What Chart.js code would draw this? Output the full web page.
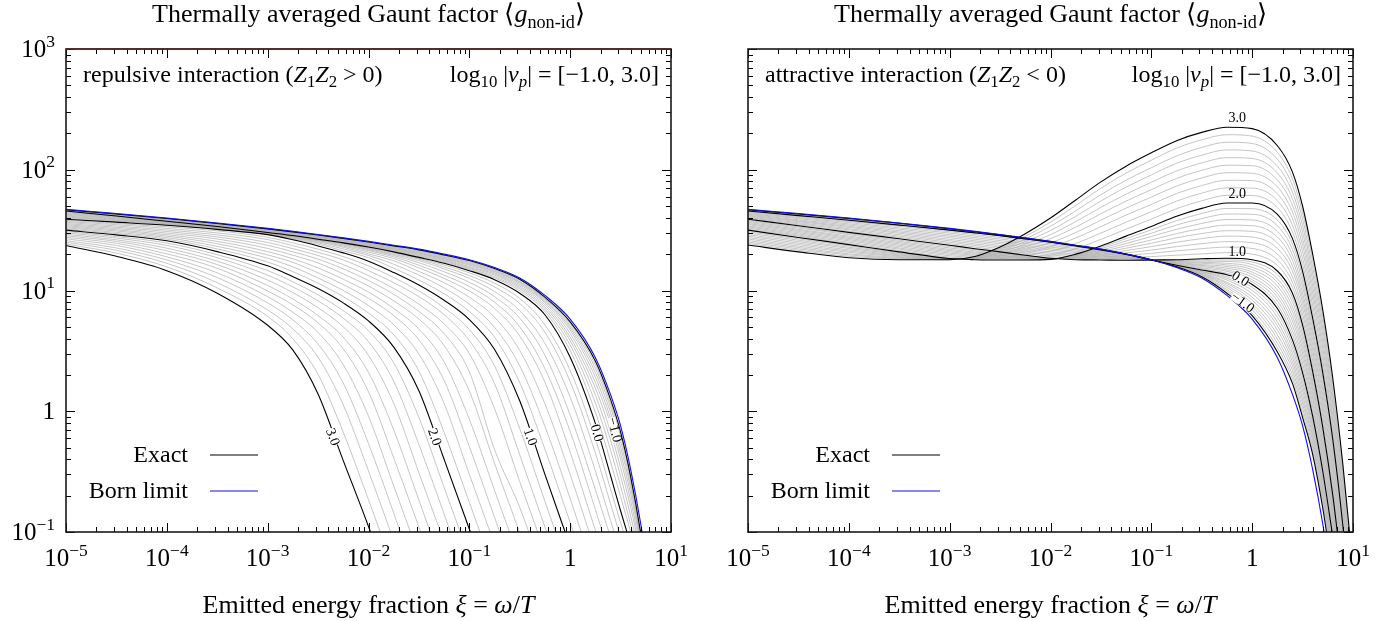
<!DOCTYPE html>
<html>
<head>
<meta charset="utf-8">
<script src="https://cdn.jsdelivr.net/npm/chart.js@4.4.1/dist/chart.umd.min.js"></script>
<style>
  html, body { margin: 0; padding: 0; background: #fff; }
  #wrap { position: relative; width: 1392px; height: 621px; }
  canvas { position: absolute; top: 0; }
</style>
</head>
<body>
<div id="wrap">
  <canvas id="chartL" width="696" height="621" style="left:0;width:696px;height:621px"></canvas>
  <canvas id="chartR" width="696" height="621" style="left:696px;width:696px;height:621px"></canvas>
</div>
<script>
// emitted energy fraction xi = omega/T, where the curves were read
const xi = [1e-5, 3.16e-5, 1e-4, 3.16e-4, 1e-3, 1.78e-3, 3.16e-3, 5.62e-3, 1e-2, 1.78e-2, 3.16e-2, 5.62e-2,
            0.1, 0.178, 0.316, 0.562, 1, 1.78, 2.51, 3.16, 3.98, 5.01, 6.31, 7.94, 10];

// log10 |nu_p| of each contour
const logNu = [-1.0, -0.9, -0.8, -0.7, -0.6, -0.5, -0.4, -0.3, -0.2, -0.1, 0.0, 0.1, 0.2, 0.3, 0.4, 0.5, 0.6, 0.7,
               0.8, 0.9, 1.0, 1.1, 1.2, 1.3, 1.4, 1.5, 1.6, 1.7, 1.8, 1.9, 2.0, 2.1, 2.2, 2.3, 2.4, 2.5, 2.6, 2.7,
               2.8, 2.9, 3.0];

// Born limit (same in both panels)
const bornLimit = [47.0, 43.4, 39.8, 36.2, 32.7, 30.9, 29.1, 27.3, 25.5, 23.7, 22.0, 20.0, 18.0, 15.5, 12.7, 9.1,
                   5.8, 2.78, 1.38, 0.76, 0.33, 0.117, 0.032];

// repulsive interaction, one row per logNu (rows stop once below the axis)
const repulsive = [
  [46.6, 43.0, 39.5, 35.9, 32.4, 30.6, 28.8, 27.0, 25.2, 23.4, 21.7, 19.7, 17.7, 15.2, 12.4, 8.8, 5.5, 2.6, 1.26, 0.676, 0.288, 0.098, 0.025],
  [46.5, 42.8, 39.3, 35.7, 32.2, 30.4, 28.6, 26.8, 25.0, 23.2, 21.4, 19.4, 17.4, 15.0, 12.2, 8.6, 5.3, 2.43, 1.17, 0.62, 0.275, 0.094],
  [46.4, 42.7, 39.1, 35.5, 32.0, 30.2, 28.4, 26.6, 24.7, 22.9, 21.1, 19.1, 17.1, 14.8, 11.9, 8.5, 5.1, 2.26, 1.08, 0.56, 0.252, 0.089],
  [46.3, 42.5, 38.9, 35.3, 31.7, 30.0, 28.1, 26.3, 24.5, 22.7, 20.8, 18.8, 16.8, 14.5, 11.7, 8.3, 4.9, 2.09, 0.98, 0.505, 0.232, 0.085],
  [46.2, 42.4, 38.7, 35.1, 31.5, 29.8, 27.9, 26.1, 24.3, 22.4, 20.5, 18.5, 16.5, 14.3, 11.5, 8.1, 4.7, 1.91, 0.88, 0.45, 0.208, 0.080],
  [46.1, 42.2, 38.5, 34.9, 31.3, 29.6, 27.7, 25.9, 24.1, 22.2, 20.3, 18.3, 16.2, 14.0, 11.2, 7.9, 4.4, 1.73, 0.79, 0.40, 0.183, 0.073],
  [45.9, 42.0, 38.2, 34.7, 31.1, 29.3, 27.5, 25.7, 23.8, 21.9, 20.0, 18.0, 15.8, 13.7, 10.9, 7.6, 4.1, 1.55, 0.68, 0.342, 0.160, 0.066],
  [45.8, 41.9, 38.0, 34.5, 30.9, 29.1, 27.3, 25.5, 23.6, 21.7, 19.7, 17.7, 15.5, 13.4, 10.6, 7.3, 3.84, 1.36, 0.58, 0.29, 0.136, 0.059],
  [45.7, 41.7, 37.8, 34.3, 30.6, 28.9, 27.0, 25.2, 23.4, 21.4, 19.4, 17.4, 15.2, 13.0, 10.3, 7.0, 3.53, 1.17, 0.48, 0.24, 0.115, 0.052],
  [45.6, 41.6, 37.6, 34.1, 30.4, 28.7, 26.8, 25.0, 23.1, 21.2, 19.1, 17.1, 14.9, 12.7, 9.95, 6.7, 3.19, 0.98, 0.384, 0.196, 0.100, 0.047],
  [45.5, 41.4, 37.4, 33.9, 30.2, 28.5, 26.6, 24.8, 22.9, 20.9, 18.8, 16.8, 14.6, 12.3, 9.5, 6.3, 2.8, 0.79, 0.295, 0.15, 0.079],
  [44.8, 40.9, 37.1, 33.7, 30.1, 28.4, 26.5, 24.7, 22.8, 20.7, 18.5, 16.3, 14.0, 11.5, 8.6, 5.2, 2.18, 0.59, 0.228, 0.120, 0.063],
  [44.1, 40.5, 36.8, 33.5, 30.0, 28.3, 26.4, 24.6, 22.5, 20.3, 18.2, 15.7, 13.3, 10.7, 7.8, 4.5, 1.76, 0.45, 0.172, 0.091],
  [43.4, 40.0, 36.6, 33.4, 29.9, 28.2, 26.3, 24.5, 22.2, 19.9, 17.7, 15.1, 12.6, 9.8, 6.8, 3.65, 1.31, 0.32, 0.125, 0.068],
  [42.8, 39.5, 36.3, 33.2, 29.8, 28.1, 26.2, 24.2, 21.8, 19.5, 17.0, 14.3, 11.7, 8.9, 5.9, 2.91, 0.93, 0.224, 0.091],
  [42.1, 39.1, 36.0, 33.0, 29.7, 27.9, 26.0, 23.8, 21.4, 19.0, 16.2, 13.4, 10.8, 8.0, 5.0, 2.25, 0.68, 0.153, 0.061],
  [41.4, 38.6, 35.7, 32.8, 29.6, 27.7, 25.7, 23.3, 20.8, 18.4, 15.4, 12.6, 9.9, 7.1, 4.2, 1.74, 0.46, 0.103, 0.042],
  [40.7, 38.1, 35.5, 32.7, 29.4, 27.4, 25.3, 22.8, 20.1, 17.6, 14.4, 11.6, 8.8, 6.0, 3.19, 1.15, 0.30, 0.069],
  [40.2, 37.7, 35.2, 32.5, 29.3, 27.1, 24.8, 22.1, 19.5, 16.5, 13.4, 10.5, 7.7, 4.95, 2.38, 0.75, 0.189, 0.043],
  [39.5, 37.2, 34.9, 32.3, 29.1, 26.7, 24.2, 21.3, 18.7, 15.3, 12.2, 9.4, 6.7, 4.1, 1.73, 0.485, 0.12, 0.030],
  [38.9, 36.8, 34.7, 32.1, 29.0, 26.3, 23.4, 20.5, 17.5, 14.1, 11.1, 8.3, 5.75, 3.25, 1.22, 0.30, 0.076],
  [38.1, 35.9, 33.7, 31.2, 27.6, 24.8, 22.0, 19.1, 16.0, 12.8, 9.9, 7.2, 4.75, 2.37, 0.72, 0.179, 0.045],
  [37.3, 35.1, 32.7, 30.0, 26.4, 23.5, 20.7, 17.9, 14.6, 11.6, 8.9, 6.3, 3.85, 1.69, 0.436, 0.110, 0.028],
  [36.6, 34.2, 31.7, 28.9, 25.0, 22.2, 19.5, 16.4, 13.3, 10.4, 7.7, 5.3, 3.0, 1.05, 0.262, 0.068],
  [35.8, 33.4, 30.8, 27.8, 23.7, 20.9, 18.2, 15.1, 12.1, 9.3, 6.7, 4.4, 2.12, 0.48, 0.160, 0.041],
  [35.1, 32.6, 29.9, 26.7, 22.3, 19.6, 16.9, 13.7, 10.9, 8.2, 5.8, 3.5, 1.47, 0.37, 0.098, 0.024],
  [34.4, 31.8, 29.0, 25.5, 21.0, 18.3, 15.4, 12.4, 9.7, 7.1, 4.8, 2.56, 0.86, 0.221, 0.058],
  [33.7, 31.1, 28.2, 24.4, 19.7, 17.1, 14.0, 11.2, 8.6, 6.2, 3.9, 1.80, 0.51, 0.132, 0.034],
  [33.0, 30.3, 27.4, 23.2, 18.5, 15.7, 12.7, 10.0, 7.5, 5.2, 2.98, 1.16, 0.30, 0.079],
  [32.3, 29.6, 26.6, 22.1, 17.2, 14.3, 11.5, 8.9, 6.5, 4.3, 2.15, 0.67, 0.176, 0.046],
  [31.6, 28.9, 25.8, 21.0, 16.0, 13.0, 10.4, 7.9, 5.6, 3.4, 1.48, 0.40, 0.106, 0.027],
  [30.8, 28.0, 24.7, 19.8, 14.6, 11.8, 9.2, 6.8, 4.65, 2.51, 0.89, 0.234, 0.062],
  [30.0, 27.2, 23.6, 18.7, 13.4, 10.7, 8.2, 5.9, 3.77, 1.77, 0.53, 0.141, 0.035],
  [29.2, 26.3, 22.4, 17.5, 12.2, 9.6, 7.2, 5.0, 2.90, 1.16, 0.31, 0.083],
  [28.4, 25.5, 21.3, 16.4, 11.0, 8.5, 6.2, 4.1, 2.10, 0.70, 0.184, 0.048],
  [27.6, 24.6, 20.1, 15.3, 9.9, 7.6, 5.4, 3.29, 1.45, 0.41, 0.110, 0.028],
  [26.8, 23.6, 19.0, 14.0, 8.9, 6.6, 4.5, 2.43, 0.91, 0.24, 0.064],
  [25.9, 22.5, 17.9, 12.8, 7.9, 5.7, 3.6, 1.71, 0.54, 0.143, 0.036],
  [25.1, 21.5, 16.8, 11.6, 6.9, 4.8, 2.80, 1.13, 0.32, 0.085],
  [24.3, 20.4, 15.7, 10.5, 6.1, 3.98, 2.02, 0.67, 0.185, 0.049],
  [23.6, 19.2, 14.6, 9.5, 5.15, 3.21, 1.39, 0.39, 0.111, 0.028]
];

// attractive interaction, one row per logNu
const attractive = [
  [46.6, 43.0, 39.5, 36.0, 32.5, 30.7, 28.9, 27.1, 25.4, 23.6, 21.9, 20.0, 18.0, 15.7, 13.0, 9.5, 6.2, 3.1, 1.70, 0.89, 0.44, 0.158, 0.044],
  [46.5, 42.9, 39.4, 35.9, 32.4, 30.6, 28.9, 27.1, 25.4, 23.6, 21.9, 20.0, 18.0, 15.7, 13.2, 9.9, 6.5, 3.36, 1.85, 0.97, 0.47, 0.170, 0.047],
  [46.4, 42.7, 39.2, 35.8, 32.3, 30.6, 28.8, 27.0, 25.3, 23.6, 21.9, 20.0, 18.0, 15.8, 13.4, 10.2, 6.95, 3.65, 2.00, 1.06, 0.506, 0.183, 0.051],
  [46.3, 42.6, 39.1, 35.6, 32.2, 30.5, 28.8, 27.0, 25.3, 23.5, 21.8, 20.0, 18.0, 15.8, 13.6, 10.6, 7.4, 3.96, 2.18, 1.15, 0.545, 0.196, 0.054],
  [46.2, 42.5, 39.0, 35.5, 32.1, 30.4, 28.7, 26.9, 25.3, 23.5, 21.8, 20.0, 18.0, 15.9, 13.7, 11.0, 7.8, 4.3, 2.37, 1.25, 0.586, 0.211, 0.059],
  [46.1, 42.4, 38.9, 35.4, 32.1, 30.4, 28.7, 26.9, 25.3, 23.5, 21.8, 20.0, 18.0, 16.0, 13.9, 11.4, 8.3, 4.7, 2.57, 1.36, 0.63, 0.226, 0.063],
  [45.9, 42.2, 38.7, 35.3, 32.0, 30.3, 28.6, 26.9, 25.2, 23.5, 21.8, 19.9, 17.9, 16.0, 14.1, 11.7, 8.8, 5.1, 2.79, 1.49, 0.68, 0.243, 0.068],
  [45.8, 42.1, 38.6, 35.2, 31.9, 30.2, 28.6, 26.8, 25.2, 23.5, 21.8, 19.9, 17.9, 16.1, 14.3, 12.2, 9.4, 5.5, 3.03, 1.62, 0.73, 0.261, 0.073],
  [45.7, 42.0, 38.5, 35.0, 31.8, 30.1, 28.5, 26.8, 25.2, 23.4, 21.7, 19.9, 17.9, 16.1, 14.4, 12.6, 10.0, 6.0, 3.30, 1.76, 0.787, 0.281, 0.079],
  [45.6, 41.8, 38.3, 34.9, 31.7, 30.1, 28.5, 26.7, 25.1, 23.4, 21.7, 19.9, 17.9, 16.2, 14.6, 13.0, 10.6, 6.5, 3.58, 1.92, 0.85, 0.30, 0.085],
  [45.5, 41.7, 38.2, 34.8, 31.6, 30.0, 28.4, 26.7, 25.1, 23.4, 21.7, 19.9, 17.9, 16.2, 14.8, 13.5, 11.2, 7.1, 3.9, 2.09, 0.91, 0.32, 0.091],
  [44.8, 40.9, 37.3, 34.0, 30.7, 29.1, 27.5, 25.9, 24.4, 22.9, 21.3, 19.6, 17.9, 16.4, 15.1, 13.9, 11.8, 7.6, 4.26, 2.29, 0.99, 0.352, 0.099, 0.021],
  [44.1, 40.1, 36.5, 33.0, 29.9, 28.2, 26.7, 25.1, 23.7, 22.2, 20.9, 19.5, 17.9, 16.6, 15.4, 14.4, 12.3, 8.2, 4.66, 2.51, 1.08, 0.382, 0.107, 0.023],
  [43.4, 39.4, 35.6, 32.2, 29.0, 27.4, 25.9, 24.4, 22.9, 21.7, 20.5, 19.2, 17.9, 16.7, 15.8, 14.8, 12.9, 8.8, 5.1, 2.75, 1.18, 0.415, 0.115, 0.025],
  [42.8, 38.5, 34.8, 31.3, 28.2, 26.6, 25.1, 23.6, 22.2, 21.1, 20.1, 19.0, 17.9, 16.9, 16.1, 15.3, 13.6, 9.4, 5.6, 3.02, 1.28, 0.451, 0.125, 0.026],
  [42.1, 37.8, 34.0, 30.5, 27.4, 25.8, 24.4, 22.9, 21.6, 20.6, 19.7, 18.8, 17.9, 17.1, 16.4, 15.8, 14.2, 10.1, 6.1, 3.31, 1.40, 0.49, 0.135, 0.028],
  [41.4, 37.2, 33.3, 29.8, 26.5, 25.1, 23.6, 22.2, 20.9, 20.0, 19.3, 18.6, 17.9, 17.3, 16.8, 16.3, 14.9, 10.9, 6.7, 3.63, 1.52, 0.532, 0.146, 0.030],
  [40.7, 36.4, 32.5, 29.0, 25.8, 24.3, 22.9, 21.5, 20.3, 19.5, 19.0, 18.4, 17.9, 17.5, 17.1, 16.8, 15.6, 11.7, 7.3, 3.98, 1.66, 0.578, 0.158, 0.032],
  [40.2, 35.7, 31.8, 28.2, 25.1, 23.6, 22.2, 20.9, 19.7, 19.0, 18.6, 18.2, 17.9, 17.7, 17.5, 17.4, 16.4, 12.5, 8.0, 4.37, 1.80, 0.628, 0.171, 0.035],
  [39.5, 35.0, 31.0, 27.5, 24.4, 22.9, 21.5, 20.3, 19.1, 18.5, 18.2, 18.0, 17.9, 17.8, 17.9, 17.9, 17.2, 13.5, 8.7, 4.79, 1.96, 0.682, 0.185, 0.037],
  [38.9, 34.4, 30.3, 26.8, 23.7, 22.2, 20.9, 19.6, 18.5, 18.0, 17.9, 17.8, 17.9, 18.0, 18.3, 18.5, 18.0, 14.5, 9.5, 5.2, 2.14, 0.74, 0.20, 0.040],
  [38.1, 33.6, 29.6, 26.1, 23.1, 21.8, 20.6, 19.5, 18.5, 18.2, 18.4, 18.7, 19.1, 19.6, 20.1, 20.6, 20.0, 16.1, 10.6, 5.8, 2.37, 0.82, 0.222, 0.044],
  [37.3, 32.9, 29.0, 25.5, 22.5, 21.3, 20.3, 19.3, 18.5, 18.4, 18.9, 19.5, 20.3, 21.3, 22.2, 22.9, 22.3, 17.9, 11.7, 6.4, 2.62, 0.91, 0.247, 0.049],
  [36.6, 32.1, 28.2, 24.9, 21.9, 20.8, 20.0, 19.1, 18.4, 18.6, 19.4, 20.5, 21.6, 23.1, 24.4, 25.4, 24.9, 20.0, 13.0, 7.1, 2.90, 1.01, 0.274, 0.054],
  [35.8, 31.5, 27.6, 24.3, 21.4, 20.4, 19.6, 18.9, 18.4, 18.8, 19.9, 21.4, 23.1, 25.1, 26.9, 28.2, 27.7, 22.3, 14.5, 7.9, 3.21, 1.12, 0.305, 0.060],
  [35.1, 30.8, 27.0, 23.7, 20.9, 20.0, 19.4, 18.8, 18.3, 19.0, 20.5, 22.4, 24.6, 27.3, 29.6, 31.3, 30.9, 24.8, 16.0, 8.7, 3.55, 1.24, 0.339, 0.067],
  [34.3, 30.1, 26.4, 23.1, 20.4, 19.6, 19.1, 18.6, 18.3, 19.1, 21.0, 23.4, 26.2, 29.6, 32.6, 34.8, 34.4, 27.7, 17.8, 9.6, 3.93, 1.38, 0.377, 0.074],
  [33.6, 29.4, 25.8, 22.5, 19.9, 19.2, 18.8, 18.4, 18.2, 19.4, 21.6, 24.5, 28.0, 32.1, 35.9, 38.7, 38.4, 30.8, 19.7, 10.7, 4.35, 1.53, 0.419, 0.082],
  [32.9, 28.8, 25.1, 22.0, 19.4, 18.8, 18.5, 18.2, 18.2, 19.5, 22.2, 25.7, 29.8, 34.9, 39.4, 43.0, 42.8, 34.4, 21.9, 11.8, 4.8, 1.70, 0.466, 0.091],
  [32.2, 28.2, 24.5, 21.4, 18.9, 18.4, 18.2, 18.1, 18.2, 19.8, 22.8, 26.9, 31.8, 37.9, 43.4, 47.8, 47.6, 38.3, 24.3, 13.1, 5.3, 1.88, 0.518, 0.101, 0.015],
  [31.6, 27.5, 24.0, 20.9, 18.4, 18.0, 17.9, 17.9, 18.1, 20.0, 23.4, 28.2, 33.9, 41.2, 47.9, 53.1, 53.1, 42.7, 26.9, 14.5, 5.9, 2.09, 0.58, 0.112, 0.014],
  [30.7, 26.8, 23.4, 20.6, 18.4, 18.1, 18.4, 18.8, 19.6, 22.1, 26.5, 32.2, 39.0, 47.6, 55.3, 61.4, 61.2, 48.6, 30.5, 16.4, 6.65, 2.36, 0.647, 0.126, 0.016],
  [29.9, 26.1, 22.8, 20.3, 18.3, 18.2, 18.8, 19.8, 21.2, 24.5, 29.9, 36.8, 44.9, 55.0, 64.0, 70.8, 70.5, 55.5, 34.7, 18.5, 7.5, 2.65, 0.728, 0.142, 0.018],
  [29.0, 25.4, 22.3, 20.0, 18.3, 18.3, 19.3, 20.8, 23.0, 27.2, 33.8, 42.1, 51.6, 63.5, 74.0, 81.8, 81.3, 63.2, 39.4, 21.0, 8.5, 2.99, 0.818, 0.160, 0.021],
  [28.2, 24.7, 21.7, 19.7, 18.2, 18.4, 19.8, 21.9, 24.8, 30.2, 38.2, 48.1, 59.4, 73.3, 85.5, 94.6, 93.5, 72.1, 44.7, 23.8, 9.6, 3.37, 0.92, 0.180, 0.023],
  [27.4, 24.0, 21.2, 19.4, 18.2, 18.5, 20.3, 23.0, 26.9, 33.5, 43.2, 55.0, 68.4, 84.7, 98.9, 109, 108, 82.2, 50.7, 26.9, 10.8, 3.80, 1.04, 0.202, 0.027],
  [26.7, 23.3, 20.7, 19.1, 18.2, 18.6, 20.7, 24.2, 29.0, 37.2, 48.8, 62.8, 78.7, 97.7, 114, 126, 124, 93.8, 57.5, 30.5, 12.2, 4.29, 1.16, 0.227, 0.030],
  [25.9, 22.7, 20.1, 18.8, 18.1, 18.7, 21.3, 25.4, 31.4, 41.2, 55.1, 71.8, 90.6, 113, 132, 146, 143, 107, 65.3, 34.5, 13.8, 4.83, 1.31, 0.255, 0.034],
  [25.2, 22.1, 19.7, 18.5, 18.1, 18.8, 21.8, 26.7, 34.0, 45.7, 62.2, 82.0, 104, 130, 153, 169, 165, 122, 74.1, 39.1, 15.6, 5.4, 1.47, 0.287, 0.039],
  [24.5, 21.5, 19.2, 18.3, 18.0, 19.0, 22.3, 28.1, 36.8, 50.7, 70.3, 93.8, 120, 151, 177, 195, 190, 139, 84.1, 44.3, 17.7, 6.1, 1.66, 0.323, 0.044],
  [23.8, 20.9, 18.7, 18.0, 18.0, 19.1, 22.9, 29.5, 39.8, 56.2, 79.4, 107, 138, 174, 204, 225, 219, 158, 95.5, 50.1, 20.0, 6.9, 1.86, 0.36, 0.050]
];

// contour labels: [text, xi, g, rotation in degrees]
const repLabels = [['3.0', 4.37e-3, 0.61, 70], ['2.0', 0.0447, 0.61, 70], ['1.0', 0.398, 0.61, 70],
                   ['0.0', 1.82, 0.66, 74], ['\u22121.0', 2.73, 0.70, 76]];
const attLabels = [['3.0', 0.71, 268, 0], ['2.0', 0.71, 63, 0], ['1.0', 0.71, 20.8, 0],
                   ['0.0', 0.76, 12.4, 32], ['\u22121.0', 0.80, 7.9, 36]];

const serif = '"Liberation Serif", "Times New Roman", serif';

function textRun(ctx, parts, x, y, size, align) {
  const items = parts.map(([t, k]) => {
    const small = k === 'sub' || k === 'isub' || k === 'sup';
    const it = k === 'i' || k === 'isub';
    const fs = small ? size * 0.7 : size;
    const font = (it ? 'italic ' : '') + fs + 'px ' + serif;
    ctx.font = font;
    const dy = (k === 'sub' || k === 'isub') ? size * 0.22 : k === 'sup' ? -size * 0.42 : 0;
    return { t, font, dy, w: ctx.measureText(t).width };
  });
  const total = items.reduce((s, i) => s + i.w, 0);
  let cx = align === 'right' ? x - total : align === 'center' ? x - total / 2 : x;
  ctx.textAlign = 'left';
  ctx.textBaseline = 'alphabetic';
  items.forEach(i => { ctx.font = i.font; ctx.fillText(i.t, cx, y + i.dy); cx += i.w; });
}

function powLabel(d) {
  if (d === 0) return [['1', 'r']];
  return [['10', 'r'], [(d < 0 ? '\u2212' : '') + Math.abs(d), 'sup']];
}

const frame = {
  id: 'frame',
  afterDatasetsDraw(chart, args, o) {
    const { ctx, chartArea: a } = chart;
    const sx = chart.scales.x, sy = chart.scales.y;
    ctx.save();

    // contour labels
    o.labels.forEach(([t, xv, yv, rot]) => {
      const px = sx.getPixelForValue(xv), py = sy.getPixelForValue(yv);
      ctx.save();
      ctx.translate(px, py);
      ctx.rotate(rot * Math.PI / 180);
      ctx.font = '14px ' + serif;
      const w = ctx.measureText(t).width;
      if (rot) { ctx.fillStyle = '#fff'; ctx.fillRect(-w / 2, -4, w, 8); }
      ctx.fillStyle = '#000';
      ctx.textAlign = 'center'; ctx.textBaseline = 'middle';
      ctx.fillText(t, 0, 0);
      ctx.restore();
    });

    // ticks, inward on all four sides
    ctx.strokeStyle = '#000';
    ctx.lineWidth = 1;
    ctx.beginPath();
    for (let d = -5; d <= 1; d++) {
      for (let m = 1; m <= 9; m++) {
        const v = m * Math.pow(10, d);
        if (v > 10.0001) break;
        const px = Math.round(sx.getPixelForValue(v)) + 0.5;
        const len = m === 1 ? 9 : 5;
        ctx.moveTo(px, a.bottom); ctx.lineTo(px, a.bottom - len);
        ctx.moveTo(px, a.top); ctx.lineTo(px, a.top + len);
      }
    }
    for (let d = -1; d <= 3; d++) {
      for (let m = 1; m <= 9; m++) {
        const v = m * Math.pow(10, d);
        if (v > 1000.001) break;
        const py = Math.round(sy.getPixelForValue(v)) + 0.5;
        const len = m === 1 ? 9 : 5;
        ctx.moveTo(a.left, py); ctx.lineTo(a.left + len, py);
        ctx.moveTo(a.right, py); ctx.lineTo(a.right - len, py);
      }
    }
    ctx.stroke();

    // frame
    ctx.lineWidth = 1.6;
    ctx.strokeStyle = '#1a1a1a';
    ctx.strokeRect(a.left, a.top, a.right - a.left, a.bottom - a.top);
    if (o.topColor) {
      ctx.strokeStyle = o.topColor;
      ctx.beginPath(); ctx.moveTo(a.left, a.top); ctx.lineTo(a.right, a.top); ctx.stroke();
    }

    // tick labels
    ctx.fillStyle = '#000';
    for (let d = -5; d <= 1; d++) {
      textRun(ctx, powLabel(d), sx.getPixelForValue(Math.pow(10, d)), a.bottom + 34, 25, 'center');
    }
    if (o.yLabels) {
      for (let d = -1; d <= 3; d++) {
        textRun(ctx, powLabel(d), a.left - 11, sy.getPixelForValue(Math.pow(10, d)) + 8, 25, 'right');
      }
    }

    const cx = (a.left + a.right) / 2;
    textRun(ctx, [['Thermally averaged Gaunt factor \u27E8', 'r'], ['g', 'i'], ['non-id', 'sub'], ['\u27E9', 'r']], cx, 22, 26, 'center');
    textRun(ctx, [['Emitted energy fraction ', 'r'], ['\u03BE', 'i'], [' = ', 'r'], ['\u03C9', 'i'], ['/', 'r'], ['T', 'i']], cx, a.bottom + 81, 26, 'center');

    // annotations
    textRun(ctx, o.note, a.left + 17, a.top + 33, 24, 'left');
    textRun(ctx, [['log', 'r'], ['10', 'sub'], [' |', 'r'], ['\u03BD', 'i'], ['p', 'isub'], ['| = [\u22121.0, 3.0]', 'r']], a.right - 12, a.top + 33, 24, 'right');

    // legend
    const lx = a.left + 122;
    textRun(ctx, [['Exact', 'r']], lx, 462, 24, 'right');
    textRun(ctx, [['Born limit', 'r']], lx, 498, 24, 'right');
    ctx.lineWidth = 1.2;
    ctx.strokeStyle = '#000';
    ctx.beginPath(); ctx.moveTo(lx + 22, 455); ctx.lineTo(lx + 70, 455); ctx.stroke();
    ctx.strokeStyle = '#1010e0';
    ctx.beginPath(); ctx.moveTo(lx + 22, 491); ctx.lineTo(lx + 70, 491); ctx.stroke();
    ctx.restore();
  }
};

function line(ys, color, width, order) {
  return {
    data: ys.map((v, i) => ({ x: xi[i], y: v })),
    borderColor: color, borderWidth: width, pointRadius: 0,
    cubicInterpolationMode: 'monotone', fill: false, order
  };
}

function contours(rows) {
  return rows.map((r, i) => Number.isInteger(logNu[i])
    ? line(r, '#000', 1.1, 1)
    : line(r, '#b2b2b2', 0.75, 2));
}

function makeChart(id, datasets, pad, deco) {
  return new Chart(document.getElementById(id), {
    type: 'line',
    data: { datasets },
    options: {
      responsive: false, animation: false, devicePixelRatio: 1, events: [],
      layout: { padding: pad },
      scales: {
        x: { type: 'logarithmic', min: 1e-5, max: 10, display: false },
        y: { type: 'logarithmic', min: 0.1, max: 1000, display: false }
      },
      plugins: { legend: { display: false }, tooltip: { enabled: false }, frame: deco }
    },
    plugins: [frame]
  });
}

makeChart('chartL',
  [line(bornLimit, '#1010e0', 1.1, 0)].concat(contours(repulsive)),
  { left: 66, right: 25, top: 49, bottom: 89 },
  { labels: repLabels, yLabels: true, topColor: '#5a2626',
    note: [['repulsive interaction (', 'r'], ['Z', 'i'], ['1', 'sub'], ['Z', 'i'], ['2', 'sub'], [' > 0)', 'r']] });

makeChart('chartR',
  [line(bornLimit, '#1010e0', 1.1, 0)].concat(contours(attractive)),
  { left: 52, right: 39, top: 49, bottom: 89 },
  { labels: attLabels, yLabels: false,
    note: [['attractive interaction (', 'r'], ['Z', 'i'], ['1', 'sub'], ['Z', 'i'], ['2', 'sub'], [' < 0)', 'r']] });
</script>
</body>
</html>
